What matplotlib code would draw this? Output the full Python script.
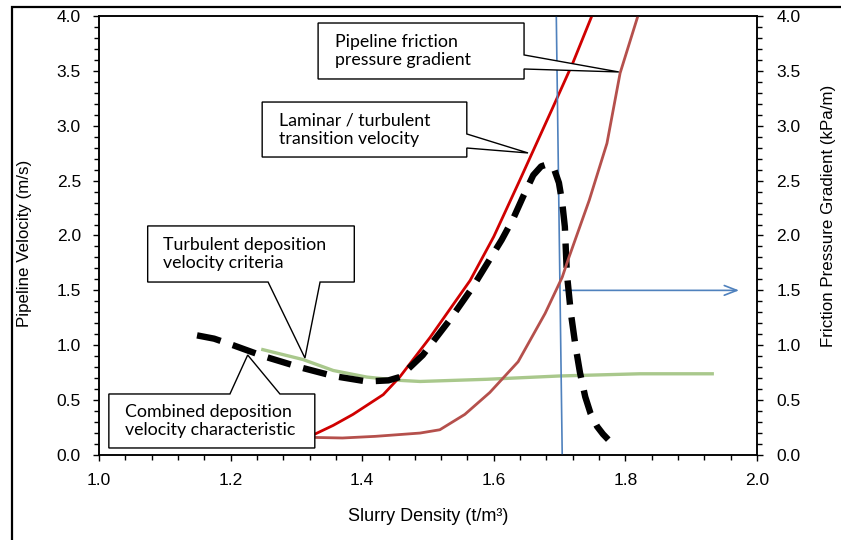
import matplotlib
matplotlib.use('Agg')
import matplotlib.pyplot as plt
from matplotlib.patches import Polygon, Rectangle
from matplotlib.ticker import MultipleLocator, FormatStrFormatter

#values
transX = [1.328, 1.356, 1.386, 1.432, 1.457, 1.503, 1.564, 1.60, 1.64, 1.69, 1.72, 1.749]
transY = [0.19, 0.27, 0.37, 0.55, 0.71, 1.07, 1.59, 1.99, 2.51, 3.17, 3.57, 4.0]

frictionX = [1.328, 1.37, 1.42, 1.488, 1.518, 1.556, 1.594, 1.637, 1.678, 1.704, 1.713, 1.745, 1.772, 1.792, 1.819]
frictionY = [0.16, 0.155, 0.17, 0.2, 0.23, 0.37, 0.57, 0.85, 1.29, 1.62, 1.78, 2.32, 2.84, 3.48, 4.0]

turbDepX = [1.249, 1.31, 1.356, 1.407, 1.457, 1.488, 1.59, 1.70, 1.822, 1.932]
turbDepY = [0.96, 0.87, 0.77, 0.71, 0.68, 0.67, 0.69, 0.72, 0.74, 0.74]

combX = [1.149, 1.175, 1.204, 1.25, 1.305, 1.356, 1.407, 1.44, 1.457, 1.492, 1.533, 1.568, 1.612,
         1.63, 1.645, 1.66, 1.672, 1.682, 1.692, 1.699, 1.704, 1.708, 1.711, 1.717, 1.724, 1.731,
         1.739, 1.747, 1.757, 1.766, 1.774]
combY = [1.09, 1.06, 1.0, 0.9, 0.8, 0.72, 0.67, 0.68, 0.71, 0.91, 1.23, 1.53, 1.96,
         2.16, 2.36, 2.55, 2.63, 2.65, 2.6, 2.48, 2.3, 2.08, 1.66, 1.3, 1.0, 0.75,
         0.53, 0.38, 0.26, 0.19, 0.14]

#operating point marker (vertical line and arrow to the right axis)
opX = [1.704, 1.695]
opY = [0.0, 4.0]
arrowY = 1.5
arrowEndX = 1.977

xTicks = [1.0, 1.2, 1.4, 1.6, 1.8, 2.0]
yTicks = [0.0, 0.5, 1.0, 1.5, 2.0, 2.5, 3.0, 3.5, 4.0]

tickFont = 'Liberation Sans'
noteFont = 'Lato'

fig = plt.figure(figsize=(8.41, 5.40), dpi=100)
ax = fig.add_axes([0.1177, 0.1574, 0.7824, 0.8130])
ax2 = ax.twinx()

#outer frame of the original picture (only left and top edges show)
fig.patches.append(Rectangle((0.0143, -0.1), 1.2, 1.087, transform=fig.transFigure,
                             fill=False, edgecolor='black', linewidth=1.6))

ax.plot(turbDepX, turbDepY, color='#a9c88c', linewidth=2.4, zorder=2)
ax2.plot(frictionX, frictionY, color='#b5504c', linewidth=2.0, zorder=2)
ax.plot(transX, transY, color='#d00000', linewidth=2.0, zorder=3)
ax.plot(combX, combY, color='black', linewidth=4.6, dashes=(3.8, 2.0), dash_capstyle='butt', zorder=4)
ax.plot(opX, opY, color='#4f81bd', linewidth=1.2, zorder=3)
ax.annotate('', xy=(arrowEndX, arrowY), xytext=(opX[0] - 0.0015 * arrowY, arrowY),
            arrowprops=dict(arrowstyle='->, head_length=0.9, head_width=0.35', color='#4f81bd', lw=1.2),
            zorder=3)

for a in (ax, ax2):
    a.set_xlim(1.0, 2.0)
    a.set_ylim(0.0, 4.0)
    a.yaxis.set_minor_locator(MultipleLocator(0.1))
    a.yaxis.set_major_formatter(FormatStrFormatter('%.1f'))
    a.tick_params(which='both', direction='out', width=1.0, labelsize=12.5)
    a.tick_params(which='major', length=4)
    a.tick_params(which='minor', length=3.5)
    for sp in a.spines.values():
        sp.set_linewidth(1.1)
ax.set_xticks(xTicks)
ax.set_yticks(yTicks)
ax2.set_yticks(yTicks)
ax.xaxis.set_minor_locator(MultipleLocator(0.04))
ax.xaxis.set_major_formatter(FormatStrFormatter('%.1f'))
for lbl in ax.get_xticklabels() + ax.get_yticklabels() + ax2.get_yticklabels():
    lbl.set_family(tickFont)
ax.tick_params(axis='x', pad=9)
ax.tick_params(axis='y', pad=9)
ax2.tick_params(axis='y', pad=10)

ax.set_xlabel('Slurry Density (t/m³)', fontsize=13, family=tickFont)
ax.xaxis.set_label_coords(0.5, -0.141)
ax.xaxis.label.set_va('center')
ax.set_ylabel('Pipeline Velocity (m/s)', fontsize=12.2, family=tickFont)
ax.yaxis.set_label_coords(-0.1125, 0.483)
ax.yaxis.label.set_va('center')
ax2.set_ylabel('Friction Pressure Gradient (kPa/m)', fontsize=12.2, family=tickFont)
ax2.yaxis.set_label_coords(1.108, 0.544)
ax2.yaxis.label.set_va('center')


def callout(box, base, tip, side):
    #box = (x0, x1, bottom, top); base = the two points of the pointer on the box edge
    x0, x1, bot, top = box
    if side == 'right':
        pts = [(x0, top), (x1, top), (x1, base[0]), tip, (x1, base[1]), (x1, bot), (x0, bot)]
    elif side == 'bottom':
        pts = [(x0, top), (x1, top), (x1, bot), (base[1], bot), tip, (base[0], bot), (x0, bot)]
    else:
        pts = [(x0, top), (base[0], top), tip, (base[1], top), (x1, top), (x1, bot), (x0, bot)]
    ax2.add_patch(Polygon(pts, closed=True, facecolor='white', edgecolor='black', linewidth=1.0, zorder=6))


noteKw = dict(fontsize=12.8, family=noteFont, va='center', ha='left', linespacing=1.15, zorder=7)

callout((1.333, 1.646, 3.426, 3.936), (3.645, 3.517), (1.790, 3.490), 'right')
ax2.text(1.358, 3.68, 'Pipeline friction\npressure gradient', **noteKw)

callout((1.248, 1.559, 2.715, 3.216), (2.925, 2.797), (1.652, 2.752), 'right')
ax2.text(1.273, 2.965, 'Laminar / turbulent\ntransition velocity', **noteKw)

callout((1.074, 1.388, 1.576, 2.087), (1.257, 1.336), (1.313, 0.884), 'bottom')
ax2.text(1.098, 1.83, 'Turbulent deposition\nvelocity criteria', **noteKw)

callout((1.015, 1.328, 0.064, 0.556), (1.199, 1.275), (1.226, 0.911), 'top')
ax2.text(1.040, 0.31, 'Combined deposition\nvelocity characteristic', **noteKw)

fig.savefig('out.png', dpi=100)
